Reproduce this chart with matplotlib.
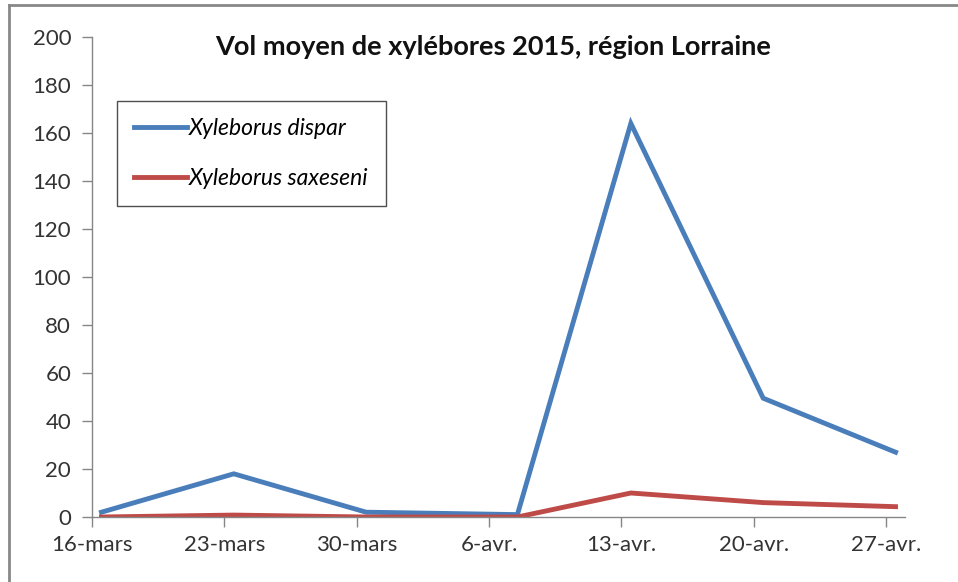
import matplotlib
matplotlib.use("Agg")
import matplotlib.pyplot as plt
import matplotlib.lines as mlines
import pandas as pd

# trap dates and mean counts
dates = ["2015-03-16", "2015-03-23", "2015-03-30", "2015-04-07",
         "2015-04-13", "2015-04-20", "2015-04-27"]
dispar = [2, 18, 2, 1, 164, 49.5, 27]
saxeseni = [0, 0.8, 0, 0, 10, 6, 4.3]

tick_labels = ["16-mars", "23-mars", "30-mars", "6-avr.", "13-avr.", "20-avr.", "27-avr."]
y_ticks = [0, 20, 40, 60, 80, 100, 120, 140, 160, 180, 200]

BLUE = "#4a7ebb"
RED = "#be4b48"
AX_C = "#868686"

start = pd.Timestamp("2015-03-16")
x = [(pd.Timestamp(d) - start).days + 0.5 for d in dates]   # Excel date axis: centre of day
x_ticks = [7 * i for i in range(len(tick_labels))]

plt.rcParams["font.family"] = ["Lato", "DejaVu Sans"]

fig = plt.figure(figsize=(9.58, 5.82), dpi=100)
ax = fig.add_axes([92 / 958, 65 / 582, (905 - 92) / 958, (517 - 37) / 582])

ax.plot(x, dispar, color=BLUE, lw=3.5, solid_joinstyle="miter", label="Xyleborus dispar")
ax.plot(x, saxeseni, color=RED, lw=3.5, solid_joinstyle="miter", label="Xyleborus saxeseni")

ax.set_xlim(0, 43)
ax.set_ylim(0, 200)
ax.set_xticks(x_ticks)
ax.set_xticklabels(tick_labels)
ax.set_yticks(y_ticks)
ax.tick_params(axis="both", labelsize=16, colors="#333333", length=7, width=1,
               direction="out")
ax.tick_params(axis="y", pad=8)
ax.tick_params(axis="x", pad=6)
ax.tick_params(axis="both", color=AX_C)
for side in ("top", "right"):
    ax.spines[side].set_visible(False)
for side in ("left", "bottom"):
    ax.spines[side].set_color(AX_C)
    ax.spines[side].set_linewidth(1)

fig.text(493 / 958, 1 - 47 / 582, "Vol moyen de xylébores 2015, région Lorraine",
         ha="center", va="center", fontsize=19.5, fontweight="bold", color="#111111")

leg = ax.legend(loc="upper left", bbox_to_anchor=(117 / 958, 1 - 101 / 582),
                bbox_transform=fig.transFigure, frameon=True, fancybox=False,
                edgecolor="#222222", prop={"style": "italic", "size": 16.5},
                handlelength=2.3, handletextpad=0.1, labelspacing=1.25,
                borderpad=0.75, borderaxespad=0)
leg.get_frame().set_linewidth(1)

# chart area border (top and left edges visible in the source)
fig.add_artist(mlines.Line2D([9 / 958, 1], [1 - 5 / 582, 1 - 5 / 582],
                             transform=fig.transFigure, color="#888888", lw=2))
fig.add_artist(mlines.Line2D([9 / 958, 9 / 958], [0, 1 - 5 / 582],
                             transform=fig.transFigure, color="#888888", lw=2))

fig.savefig("out.png", dpi=100)
